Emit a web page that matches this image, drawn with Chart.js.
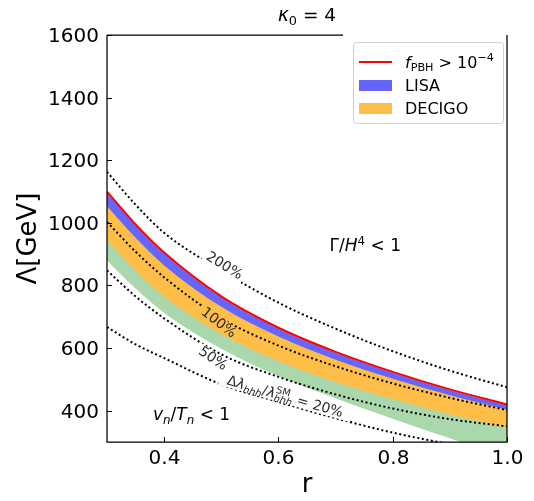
<!DOCTYPE html>
<html>
<head>
<meta charset="utf-8">
<script src="https://cdn.jsdelivr.net/npm/chart.js@4.4.0/dist/chart.umd.min.js"></script>
<style>
  html, body { margin: 0; padding: 0; background: #fff; }
  #wrap { width: 534px; height: 501px; }
</style>
</head>
<body>
<div id="wrap"><canvas id="chart" width="534" height="501"></canvas></div>
<script>
// values (r on x, Lambda in GeV on y)
const rGrid = [0.3, 0.35, 0.4, 0.5, 0.6, 0.7, 0.8, 0.9, 1.0];
const fPbh = [1100, 995, 905, 765, 665, 588, 524, 468, 420];
const lisaTop = [1097, 992, 902, 762, 662, 585, 521, 465, 417];
const lisaBottom = [1053, 952, 864, 732, 637, 563, 502, 449, 403];
const decigoBottom = [944, 848, 765, 645, 558, 492, 437, 388, 346];
const greenBottom = [880, 790, 712, 598, 510, 440, 374, 312, 255];
const dev200 = [1163, 1058, 968, 848, 745, 662, 590, 528, 475];
const dev100 = [1003, 908, 826, 695, 608, 542, 487, 441, 402];
const dev50 = [848, 765, 695, 580, 508, 452, 407, 373, 350];
const dev20 = [667, 612, 568, 484, 428, 376, 330, 293, 262];

const xTicks = [0.4, 0.6, 0.8, 1.0];
const yTicks = [400, 600, 800, 1000, 1200, 1400, 1600];

// contour labels: text, r, Lambda
const labelText = ['200%', '100%', '50%'];
const labelR = [0.505, 0.495, 0.485];
const labelVal = [862, 680, 565];

const FONT = '"DejaVu Sans", Verdana, sans-serif';
const RED = '#ff0000';
const BLUE = 'rgb(102,102,255)';
const ORANGE = 'rgb(255,190,72)';
const GREEN = 'rgb(170,216,172)';

const pts = ys => rGrid.map((r, i) => ({ x: r, y: ys[i] }));

// draw text made of runs (italic / sub / sup), used for the math labels
function drawRuns(ctx, runs, x, y, size, align) {
  const fontFor = r => (r.it ? 'italic ' : '') + ((r.sub || r.sup) ? size * 0.7 : size) + 'px ' + FONT;
  const widths = runs.map(r => { ctx.font = fontFor(r); return ctx.measureText(r.t).width; });
  const xs = [];
  let cx = 0, held = null;
  runs.forEach((r, i) => {
    if (held) { xs.push(held.x); cx = held.x + Math.max(held.w, widths[i]); held = null; }
    else if (r.stack) { xs.push(cx); held = { x: cx, w: widths[i] }; }
    else { xs.push(cx); cx += widths[i]; }
  });
  const x0 = align === 'center' ? x - cx / 2 : align === 'right' ? x - cx : x;
  ctx.textBaseline = 'alphabetic';
  ctx.textAlign = 'left';
  runs.forEach((r, i) => {
    ctx.font = fontFor(r);
    const dy = r.sub ? size * 0.22 : r.sup ? -size * 0.4 : 0;
    ctx.fillText(r.t, x0 + xs[i], y + dy);
  });
  return cx;
}

function labelGeom(chart, k) {
  const xs = chart.scales.x, ys = chart.scales.y;
  const series = [dev200, dev100, dev50][k];
  const i = rGrid.findIndex(r => r > labelR[k]);
  const a = Math.atan2(ys.getPixelForValue(series[i]) - ys.getPixelForValue(series[i - 2]),
                       xs.getPixelForValue(rGrid[i]) - xs.getPixelForValue(rGrid[i - 2]));
  return { x: xs.getPixelForValue(labelR[k]), y: ys.getPixelForValue(labelVal[k]), a };
}

const eq20Runs = [
  { t: 'Δ' }, { t: 'λ', it: true }, { t: 'hhh', it: true, sub: true },
  { t: '/' }, { t: 'λ', it: true }, { t: 'SM', sup: true, stack: true }, { t: 'hhh', it: true, sub: true },
  { t: ' = 20%' }
];
const eq20R = 0.612, eq20Val = 447;

function allLabelBoxes(chart) {
  const ctx = chart.ctx;
  const boxes = labelText.map((t, k) => {
    const g = labelGeom(chart, k);
    ctx.font = '14px ' + FONT;
    return { ...g, w: ctx.measureText(t).width + 6, h: 14 };
  });
  const xs = chart.scales.x, ys = chart.scales.y;
  const i = rGrid.findIndex(r => r > eq20R);
  const a = Math.atan2(ys.getPixelForValue(dev20[i]) - ys.getPixelForValue(dev20[i - 1]),
                       xs.getPixelForValue(rGrid[i]) - xs.getPixelForValue(rGrid[i - 1]));
  boxes.push({ x: xs.getPixelForValue(eq20R), y: ys.getPixelForValue(eq20Val), a, w: 136, h: 15 });
  return boxes;
}

// break the dotted lines under their inline labels
const gapPlugin = {
  id: 'gaps',
  beforeDatasetDraw(chart, args) {
    if (!chart.data.datasets[args.index].dotted) return;
    const ctx = chart.ctx, ca = chart.chartArea;
    ctx.save();
    ctx.beginPath();
    ctx.rect(ca.left - 2, ca.top - 2, ca.width + 4, ca.height + 4);
    allLabelBoxes(chart).forEach(b => {
      const c = Math.cos(b.a), s = Math.sin(b.a);
      const corners = [[-b.w / 2, -b.h / 2], [b.w / 2, -b.h / 2], [b.w / 2, b.h / 2], [-b.w / 2, b.h / 2]];
      corners.forEach(([u, v], j) => {
        const px = b.x + u * c - v * s, py = b.y + u * s + v * c;
        j ? ctx.lineTo(px, py) : ctx.moveTo(px, py);
      });
      ctx.closePath();
    });
    ctx.clip('evenodd');
  },
  afterDatasetDraw(chart, args) {
    if (!chart.data.datasets[args.index].dotted) return;
    chart.ctx.restore();
  }
};

const framePlugin = {
  id: 'frame',
  afterDraw(chart) {
    const ctx = chart.ctx, ca = chart.chartArea;
    const xs = chart.scales.x, ys = chart.scales.y;
    ctx.save();
    ctx.fillStyle = '#000';
    ctx.strokeStyle = '#000';

    // contour labels
    ctx.fillStyle = '#2a2a2a';
    labelText.forEach((t, k) => {
      const g = labelGeom(chart, k);
      ctx.save();
      ctx.translate(g.x, g.y);
      ctx.rotate(g.a);
      ctx.font = '14px ' + FONT;
      ctx.textAlign = 'center';
      ctx.textBaseline = 'middle';
      ctx.fillText(t, 0, 0);
      ctx.restore();
    });
    const b20 = allLabelBoxes(chart)[3];
    ctx.save();
    ctx.translate(b20.x, b20.y);
    ctx.rotate(b20.a);
    drawRuns(ctx, eq20Runs, 0, 5, 14, 'center');
    ctx.restore();

    // region annotations
    ctx.fillStyle = '#000';
    drawRuns(ctx, [{ t: 'Γ/' }, { t: 'H', it: true }, { t: '4', sup: true }, { t: ' < 1' }],
      xs.getPixelForValue(0.752), ys.getPixelForValue(928) + 6, 17, 'center');
    drawRuns(ctx, [{ t: 'v', it: true }, { t: 'n', it: true, sub: true }, { t: '/' }, { t: 'T', it: true },
      { t: 'n', it: true, sub: true }, { t: ' < 1' }],
      xs.getPixelForValue(0.448), ys.getPixelForValue(390) + 6, 17, 'center');

    // spines (top one stops short, as in the figure)
    ctx.lineWidth = 1.25;
    ctx.beginPath();
    ctx.moveTo(ca.left, ca.top);
    ctx.lineTo(ca.left, ca.bottom);
    ctx.lineTo(ca.right, ca.bottom);
    ctx.lineTo(ca.right, ca.top);
    ctx.moveTo(ca.left, ca.top);
    ctx.lineTo(ca.left + ca.width * 0.59, ca.top);
    ctx.stroke();

    // inward ticks + labels
    ctx.lineWidth = 1;
    ctx.font = '20px ' + FONT;
    ctx.textAlign = 'center';
    ctx.textBaseline = 'top';
    xTicks.forEach(v => {
      const px = Math.round(xs.getPixelForValue(v)) + 0.5;
      ctx.beginPath(); ctx.moveTo(px, ca.bottom); ctx.lineTo(px, ca.bottom - 5); ctx.stroke();
      ctx.fillText(v.toFixed(1), px, ca.bottom + 7);
    });
    ctx.textAlign = 'right';
    ctx.textBaseline = 'middle';
    yTicks.forEach(v => {
      const py = Math.round(ys.getPixelForValue(v)) + 0.5;
      ctx.beginPath(); ctx.moveTo(ca.left, py); ctx.lineTo(ca.left + 5, py); ctx.stroke();
      ctx.fillText(String(v), ca.left - 8, py + 1);
    });

    // axis titles and title
    ctx.font = '26px ' + FONT;
    ctx.textAlign = 'center';
    ctx.textBaseline = 'middle';
    ctx.fillText('r', (ca.left + ca.right) / 2, 485);
    ctx.save();
    ctx.translate(29, (ca.top + ca.bottom) / 2);
    ctx.rotate(-Math.PI / 2);
    ctx.fillText('Λ[GeV]', 0, 0);
    ctx.restore();
    drawRuns(ctx, [{ t: 'κ', it: true }, { t: '0', sub: true }, { t: ' = 4' }],
      (ca.left + ca.right) / 2, 21, 18.5, 'center');

    // legend
    const lx = 353, ly = 42, lw = 150, lh = 81;
    ctx.fillStyle = 'rgba(255,255,255,0.8)';
    ctx.strokeStyle = '#d0d0d0';
    ctx.lineWidth = 1;
    ctx.beginPath();
    ctx.roundRect(lx + 0.5, ly + 0.5, lw, lh, 3);
    ctx.fill();
    ctx.stroke();
    const rows = [ly + 20, ly + 43, ly + 66];
    ctx.strokeStyle = chart.data.datasets[0].borderColor;
    ctx.lineWidth = 2;
    ctx.beginPath(); ctx.moveTo(lx + 6, rows[0]); ctx.lineTo(lx + 39, rows[0]); ctx.stroke();
    ctx.fillStyle = chart.data.datasets[5].backgroundColor;
    ctx.fillRect(lx + 6, rows[1] - 5, 33, 11);
    ctx.fillStyle = chart.data.datasets[7].backgroundColor;
    ctx.fillRect(lx + 6, rows[2] - 5, 33, 11);
    ctx.fillStyle = '#000';
    drawRuns(ctx, [{ t: 'f', it: true }, { t: 'PBH', sub: true }, { t: ' > 10' }, { t: '−4', sup: true }],
      lx + 52, rows[0] + 5.5, 16, 'left');
    drawRuns(ctx, [{ t: 'LISA' }], lx + 52, rows[1] + 6, 16, 'left');
    drawRuns(ctx, [{ t: 'DECIGO' }], lx + 52, rows[2] + 6, 16, 'left');
    ctx.restore();
  }
};

const dotted = (ys, label) => ({
  label, data: pts(ys), dotted: true, order: 1,
  borderColor: '#000', borderWidth: 2, borderDash: [2, 2.6], fill: false
});

new Chart(document.getElementById('chart'), {
  type: 'line',
  data: {
    datasets: [
      { label: 'f_PBH > 1e-4', data: pts(fPbh), borderColor: RED, borderWidth: 2, fill: false, order: 0 },
      dotted(dev200, '200%'),
      dotted(dev100, '100%'),
      dotted(dev50, '50%'),
      dotted(dev20, '20%'),
      { label: 'LISA', data: pts(lisaTop), borderWidth: 0, backgroundColor: BLUE, fill: 6, order: 2 },
      { label: 'LISA low', data: pts(lisaBottom), borderWidth: 0, fill: false, order: 2 },
      { label: 'DECIGO', data: pts(decigoBottom), borderWidth: 0, backgroundColor: ORANGE, fill: 5, order: 3 },
      { label: 'band', data: pts(greenBottom), borderWidth: 0, backgroundColor: GREEN, fill: 5, order: 4 }
    ]
  },
  options: {
    responsive: false,
    animation: false,
    events: [],
    layout: { padding: { left: 107, right: 27, top: 35, bottom: 59 } },
    elements: {
      point: { radius: 0 },
      line: { cubicInterpolationMode: 'monotone' }
    },
    scales: {
      x: { type: 'linear', min: 0.3, max: 1.0, display: false },
      y: { type: 'linear', min: 300, max: 1600, display: false }
    },
    plugins: {
      legend: { display: false },
      tooltip: { enabled: false },
      filler: { propagate: false }
    }
  },
  plugins: [gapPlugin, framePlugin]
});
</script>
</body>
</html>
